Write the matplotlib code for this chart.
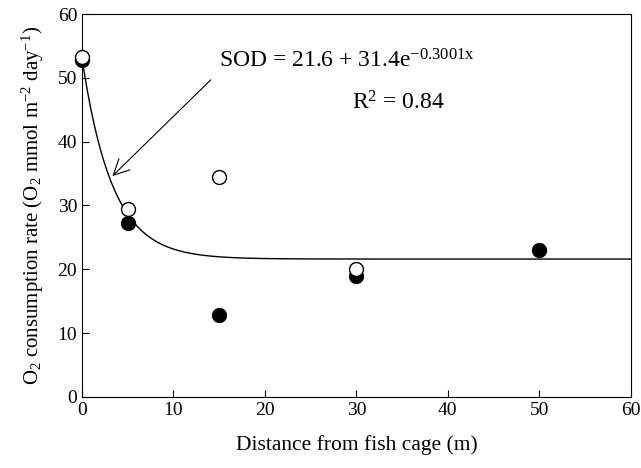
import numpy as np
import matplotlib.pyplot as plt

plt.rcParams['font.family'] = ['Liberation Serif', 'DejaVu Serif']
plt.rcParams['mathtext.fontset'] = 'custom'
plt.rcParams['mathtext.rm'] = 'Liberation Serif'
plt.rcParams['mathtext.it'] = 'Liberation Serif'

# open circles
x_open = [0, 5, 15, 30]
y_open = [53.2, 29.5, 34.5, 20.0]
# filled circles
x_fill = [0, 5, 15, 30, 50]
y_fill = [52.8, 27.3, 12.8, 19.0, 23.0]

# fitted model SOD = a + b*exp(c*x)
a, b, c = 21.6, 31.4, -0.3001

fig = plt.figure(figsize=(6.41, 4.68), dpi=100)
ax = fig.add_axes([0.128, 0.152, 0.856, 0.818])

xs = np.linspace(0, 60, 400)
ax.plot(xs, a + b * np.exp(c * xs), color='black', lw=1.0, zorder=1)

ax.scatter(x_fill, y_fill, s=100, facecolor='black', edgecolor='black',
           zorder=2, clip_on=False)
ax.scatter(x_open, y_open, s=100, facecolor='white', edgecolor='black',
           linewidths=1.0, zorder=3, clip_on=False)

ax.annotate('', xy=(3.1, 34.3), xytext=(14.3, 50.0),
            arrowprops=dict(arrowstyle='->', color='black', lw=0.8, mutation_scale=28))
ax.text(15.0, 52.6, 'SOD = 21.6 + 31.4e$^{-0.3001x}$', fontsize=17, va='center')
ax.text(29.5, 46.0, 'R$^{2}$ = 0.84', fontsize=17, va='center')

ax.set_xlim(0, 60)
ax.set_ylim(0, 60)
ax.set_xticks(range(0, 61, 10))
ax.set_yticks(range(0, 61, 10))
ax.tick_params(direction='in', labelsize=14, length=5)
ax.set_xlabel('Distance from fish cage (m)', fontsize=15.5, labelpad=12)
ax.set_ylabel('O$_{2}$ consumption rate (O$_{2}$ mmol m$^{-2}$ day$^{-1}$)', fontsize=15, labelpad=8)

plt.savefig('out.png', dpi=100)
plt.close()
